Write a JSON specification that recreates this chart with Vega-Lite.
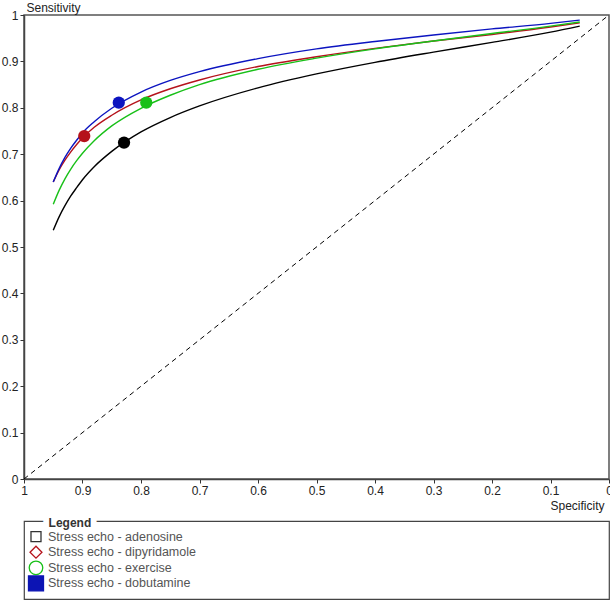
{
  "$schema": "https://vega.github.io/schema/vega-lite/v6.json",
  "padding": {"left": 0, "top": 0, "right": 0, "bottom": 0},
  "background": "white",
  "config": {"font": "Liberation Sans", "view": {"stroke": null}},
  "spacing": 42,
  "bounds": "flush",
  "resolve": {"scale": {"x": "independent", "y": "independent", "color": "independent"}},
  "datasets": {
    "diag": [{"spec": 1, "sens": 0}, {"spec": 0, "sens": 1}],
    "curves": [
      {"key": "adenosine", "spec": 0.95, "sens": 0.536}, {"key": "adenosine", "spec": 0.94, "sens": 0.565}, {"key": "adenosine", "spec": 0.93, "sens": 0.589}, {"key": "adenosine", "spec": 0.92, "sens": 0.610}, {"key": "adenosine", "spec": 0.91, "sens": 0.628}, {"key": "adenosine", "spec": 0.90, "sens": 0.645}, {"key": "adenosine", "spec": 0.88, "sens": 0.673}, {"key": "adenosine", "spec": 0.85, "sens": 0.706}, {"key": "adenosine", "spec": 0.80, "sens": 0.748}, {"key": "adenosine", "spec": 0.75, "sens": 0.779}, {"key": "adenosine", "spec": 0.70, "sens": 0.804}, {"key": "adenosine", "spec": 0.60, "sens": 0.843}, {"key": "adenosine", "spec": 0.50, "sens": 0.873}, {"key": "adenosine", "spec": 0.40, "sens": 0.898}, {"key": "adenosine", "spec": 0.30, "sens": 0.920}, {"key": "adenosine", "spec": 0.20, "sens": 0.941}, {"key": "adenosine", "spec": 0.10, "sens": 0.963}, {"key": "adenosine", "spec": 0.05, "sens": 0.976},
      {"key": "dipyridamole", "spec": 0.95, "sens": 0.640}, {"key": "dipyridamole", "spec": 0.94, "sens": 0.666}, {"key": "dipyridamole", "spec": 0.93, "sens": 0.687}, {"key": "dipyridamole", "spec": 0.92, "sens": 0.705}, {"key": "dipyridamole", "spec": 0.91, "sens": 0.721}, {"key": "dipyridamole", "spec": 0.90, "sens": 0.735}, {"key": "dipyridamole", "spec": 0.88, "sens": 0.758}, {"key": "dipyridamole", "spec": 0.85, "sens": 0.784}, {"key": "dipyridamole", "spec": 0.80, "sens": 0.817}, {"key": "dipyridamole", "spec": 0.75, "sens": 0.841}, {"key": "dipyridamole", "spec": 0.70, "sens": 0.860}, {"key": "dipyridamole", "spec": 0.60, "sens": 0.889}, {"key": "dipyridamole", "spec": 0.50, "sens": 0.910}, {"key": "dipyridamole", "spec": 0.40, "sens": 0.928}, {"key": "dipyridamole", "spec": 0.30, "sens": 0.944}, {"key": "dipyridamole", "spec": 0.20, "sens": 0.958}, {"key": "dipyridamole", "spec": 0.10, "sens": 0.974}, {"key": "dipyridamole", "spec": 0.05, "sens": 0.983},
      {"key": "exercise", "spec": 0.95, "sens": 0.592}, {"key": "exercise", "spec": 0.94, "sens": 0.622}, {"key": "exercise", "spec": 0.93, "sens": 0.647}, {"key": "exercise", "spec": 0.92, "sens": 0.668}, {"key": "exercise", "spec": 0.91, "sens": 0.686}, {"key": "exercise", "spec": 0.90, "sens": 0.702}, {"key": "exercise", "spec": 0.88, "sens": 0.729}, {"key": "exercise", "spec": 0.85, "sens": 0.761}, {"key": "exercise", "spec": 0.80, "sens": 0.799}, {"key": "exercise", "spec": 0.75, "sens": 0.827}, {"key": "exercise", "spec": 0.70, "sens": 0.850}, {"key": "exercise", "spec": 0.60, "sens": 0.883}, {"key": "exercise", "spec": 0.50, "sens": 0.907}, {"key": "exercise", "spec": 0.40, "sens": 0.927}, {"key": "exercise", "spec": 0.30, "sens": 0.944}, {"key": "exercise", "spec": 0.20, "sens": 0.960}, {"key": "exercise", "spec": 0.10, "sens": 0.976}, {"key": "exercise", "spec": 0.05, "sens": 0.985},
      {"key": "dobutamine", "spec": 0.95, "sens": 0.640}, {"key": "dobutamine", "spec": 0.94, "sens": 0.669}, {"key": "dobutamine", "spec": 0.93, "sens": 0.693}, {"key": "dobutamine", "spec": 0.92, "sens": 0.713}, {"key": "dobutamine", "spec": 0.91, "sens": 0.730}, {"key": "dobutamine", "spec": 0.90, "sens": 0.746}, {"key": "dobutamine", "spec": 0.88, "sens": 0.770}, {"key": "dobutamine", "spec": 0.85, "sens": 0.799}, {"key": "dobutamine", "spec": 0.80, "sens": 0.834}, {"key": "dobutamine", "spec": 0.75, "sens": 0.859}, {"key": "dobutamine", "spec": 0.70, "sens": 0.878}, {"key": "dobutamine", "spec": 0.60, "sens": 0.906}, {"key": "dobutamine", "spec": 0.50, "sens": 0.927}, {"key": "dobutamine", "spec": 0.40, "sens": 0.943}, {"key": "dobutamine", "spec": 0.30, "sens": 0.957}, {"key": "dobutamine", "spec": 0.20, "sens": 0.970}, {"key": "dobutamine", "spec": 0.10, "sens": 0.982}, {"key": "dobutamine", "spec": 0.05, "sens": 0.989}
    ],
    "points": [
      {"key": "adenosine", "spec": 0.829, "sens": 0.725},
      {"key": "dipyridamole", "spec": 0.897, "sens": 0.739},
      {"key": "exercise", "spec": 0.791, "sens": 0.811},
      {"key": "dobutamine", "spec": 0.838, "sens": 0.811}
    ],
    "legend": [
      {"key": "adenosine", "label": "Stress echo - adenosine", "row": 1},
      {"key": "dipyridamole", "label": "Stress echo - dipyridamole", "row": 2},
      {"key": "exercise", "label": "Stress echo - exercise", "row": 3},
      {"key": "dobutamine", "label": "Stress echo - dobutamine", "row": 4}
    ],
    "legendTitle": [{"t": "Legend"}]
  },
  "vconcat": [
    {
      "width": 585,
      "height": 464,
      "view": {"stroke": "#555", "strokeWidth": 1.5},
      "encoding": {
        "x": {
          "field": "spec", "type": "quantitative",
          "scale": {"domain": [0, 1], "reverse": true, "nice": false, "zero": false},
          "axis": {
            "title": "Specificity", "values": [0, 0.1, 0.2, 0.3, 0.4, 0.5, 0.6, 0.7, 0.8, 0.9, 1],
            "format": ".1~f", "grid": false, "tickSize": 4, "tickColor": "#333", "domainColor": "#444", "domainWidth": 1.5,
            "labelFontSize": 12, "labelColor": "#222", "labelPadding": 2, "labelFlush": false,
            "titleFontSize": 12, "titleFontWeight": "normal", "titleColor": "#222",
            "titleAlign": "right", "titleAnchor": null, "titleX": 580, "titleY": 26, "titleBaseline": "middle"
          }
        },
        "y": {
          "field": "sens", "type": "quantitative",
          "scale": {"domain": [0, 1], "nice": false},
          "axis": {
            "title": "Sensitivity", "values": [0, 0.1, 0.2, 0.3, 0.4, 0.5, 0.6, 0.7, 0.8, 0.9, 1],
            "format": ".1~f", "grid": false, "tickSize": 4, "tickColor": "#333", "domainColor": "#444", "domainWidth": 1.5,
            "labelFontSize": 12, "labelColor": "#222", "labelPadding": 2, "labelFlush": false,
            "titleFontSize": 12, "titleFontWeight": "normal", "titleColor": "#222",
            "titleAngle": 0, "titleAlign": "left", "titleAnchor": null, "titleX": 2, "titleY": -1, "titleBaseline": "bottom"
          }
        }
      },
      "layer": [
        {
          "data": {"name": "diag"},
          "mark": {"type": "line", "color": "#000", "strokeDash": [5, 4], "strokeWidth": 1}
        },
        {
          "data": {"name": "curves"},
          "mark": {"type": "line", "interpolate": "monotone", "strokeWidth": 1.4},
          "encoding": {
            "color": {
              "field": "key", "type": "nominal",
              "scale": {"domain": ["adenosine", "dipyridamole", "exercise", "dobutamine"], "range": ["#000000", "#b5121b", "#18c018", "#0c14c0"]},
              "legend": null
            }
          }
        },
        {
          "data": {"name": "points"},
          "mark": {"type": "circle", "size": 150, "opacity": 1},
          "encoding": {
            "color": {
              "field": "key", "type": "nominal",
              "scale": {"domain": ["adenosine", "dipyridamole", "exercise", "dobutamine"], "range": ["#000000", "#b5121b", "#18c018", "#0c14c0"]},
              "legend": null
            }
          }
        }
      ]
    },
    {
      "width": 585,
      "height": 78,
      "view": {"stroke": "#444", "strokeWidth": 1.2},
      "layer": [
        {
          "data": {"name": "legendTitle"},
          "mark": {"type": "text", "align": "left", "baseline": "middle", "fontSize": 12, "fontWeight": "bold", "fill": "white", "stroke": "white", "strokeWidth": 12, "strokeJoin": "round"},
          "encoding": {
            "x": {"datum": 4.2, "type": "quantitative", "scale": {"domain": [0, 100]}, "axis": null},
            "y": {"datum": 0.143, "type": "quantitative", "scale": {"domain": [0.143, 4.6], "reverse": true}, "axis": null},
            "text": {"field": "t"}
          }
        },
        {
          "data": {"name": "legendTitle"},
          "mark": {"type": "text", "align": "left", "baseline": "middle", "fontSize": 12, "fontWeight": "bold", "color": "#333"},
          "encoding": {
            "x": {"datum": 4.2, "type": "quantitative"},
            "y": {"datum": 0.143, "type": "quantitative"},
            "text": {"field": "t"}
          }
        },
        {
          "data": {"name": "legend"},
          "mark": {"type": "point", "strokeWidth": 1.3, "opacity": 1, "fillOpacity": 1},
          "encoding": {
            "x": {"datum": 2.05, "type": "quantitative"},
            "y": {"field": "row", "type": "quantitative"},
            "shape": {"field": "key", "type": "nominal", "scale": {"domain": ["adenosine", "dipyridamole", "exercise", "dobutamine"], "range": ["square", "diamond", "circle", "square"]}, "legend": null},
            "stroke": {"field": "key", "type": "nominal", "scale": {"domain": ["adenosine", "dipyridamole", "exercise", "dobutamine"], "range": ["#333333", "#b5121b", "#18c018", "#0c14b4"]}, "legend": null},
            "fill": {"field": "key", "type": "nominal", "scale": {"domain": ["adenosine", "dipyridamole", "exercise", "dobutamine"], "range": ["#ffffff", "#ffffff", "#ffffff", "#0c14b4"]}, "legend": null},
            "size": {"field": "key", "type": "ordinal", "scale": {"domain": ["adenosine", "dipyridamole", "exercise", "dobutamine"], "range": [100, 225, 130, 100]}, "legend": null}
          }
        },
        {
          "data": {"name": "legend"},
          "mark": {"type": "text", "align": "left", "baseline": "middle", "fontSize": 12.5, "color": "#555"},
          "encoding": {
            "x": {"datum": 4.1, "type": "quantitative"},
            "y": {"field": "row", "type": "quantitative"},
            "text": {"field": "label"}
          }
        }
      ]
    }
  ]
}
